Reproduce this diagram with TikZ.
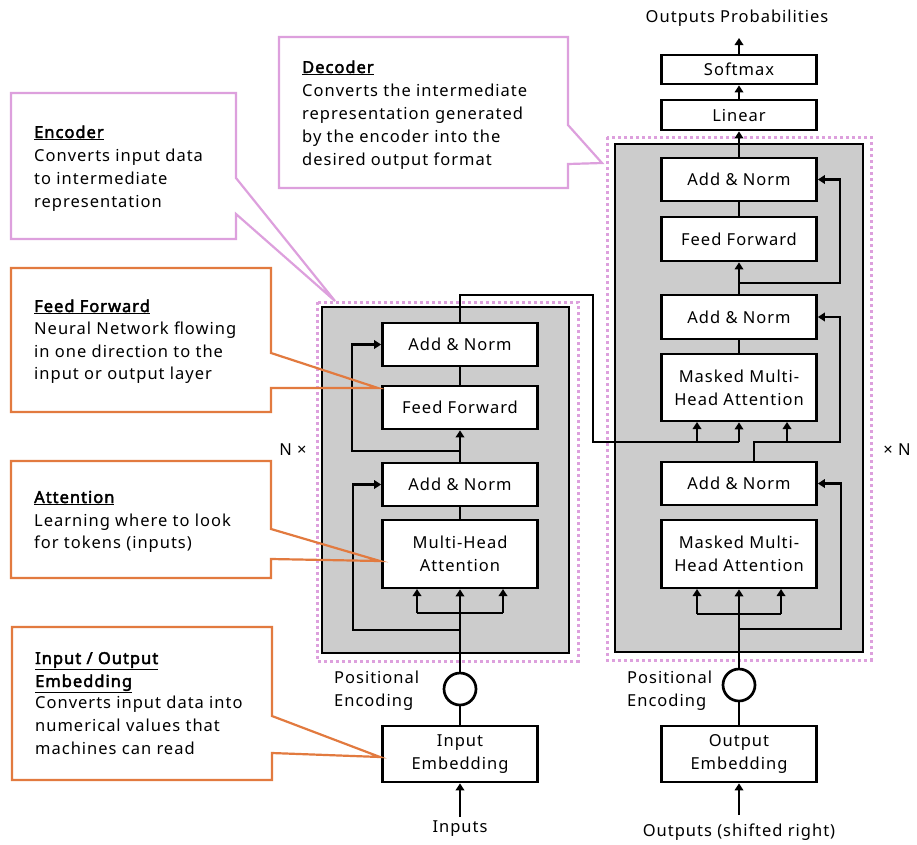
\documentclass[tikz,border=0pt]{standalone}
\usepackage{fontspec}
\setmainfont{Noto Sans}[LetterSpace=6, AutoFakeBold=2.5]
\usetikzlibrary{arrows.meta}
\definecolor{calloutpink}{RGB}{221,160,221}
\definecolor{calloutorange}{RGB}{226,122,63}
\definecolor{stackgray}{RGB}{204,204,204}
\begin{document}
\begin{tikzpicture}[x=1pt,y=-1pt,
  txt/.style={font=\fontsize{16.5}{23}\selectfont, inner sep=0pt},
  blk/.style={txt, draw=black, line width=2.7pt, fill=white, minimum width=155pt, align=center},
  conn/.style={line width=2.7pt},
  arr/.style={conn, -{Triangle[length=7pt,width=8.5pt]}},
  cline/.style={txt, anchor=base west},
  ctitle/.style={cline, font=\fontsize{16.5}{23}\selectfont\bfseries},
  pinkline/.style={draw=calloutpink, line width=2.2pt, line join=miter},
  orangeline/.style={draw=calloutorange, line width=2.2pt, line join=miter},
  stackframe/.style={draw=calloutpink, line width=3pt, dash pattern=on 3pt off 3pt},
  stackbox/.style={draw=black, line width=2.7pt, fill=stackgray},
  pe/.style={draw=black, line width=2.7pt, fill=white, circle, minimum size=32pt, inner sep=0pt}
]
\useasboundingbox (0,0) rectangle (917,844);
\fill[white] (0,0) rectangle (917,844);

% callout shapes
\def\encshape{(11,93) -- (236,93) -- (236,178) -- (335,301) -- (236,214) -- (236,239) -- (11,239) -- cycle}
\def\decshape{(279,37) -- (568,37) -- (568,125) -- (602,163) -- (568,164) -- (568,188) -- (279,188) -- cycle}
\def\ffshape{(11,268) -- (271,268) -- (271,353) -- (378,388) -- (271,388) -- (271,412) -- (11,412) -- cycle}
\def\attshape{(11,461) -- (271,461) -- (271,529) -- (380,561) -- (271,559) -- (271,578) -- (11,578) -- cycle}
\def\embshape{(12,627) -- (272,627) -- (272,716) -- (380,757) -- (272,753) -- (272,780) -- (12,780) -- cycle}
\fill[white] \encshape; \fill[white] \decshape; \fill[white] \ffshape;
\fill[white] \attshape; \fill[white] \embshape;

% encoder and decoder stacks
\draw[stackframe] (317,302) rectangle (578,661);
\draw[stackbox] (322,307) rectangle (569,653);
\draw[stackframe] (607,137) rectangle (871,660);
\draw[stackbox] (615,144) rectangle (863,652);

% encoder blocks
\node[blk, minimum height=43pt] (eAN2) at (460,344.5) {Add \& Norm};
\node[blk, minimum height=43pt] (eFF)  at (460,407.5) {Feed Forward};
\node[blk, minimum height=43pt] (eAN1) at (460,484.5) {Add \& Norm};
\node[blk, minimum height=68pt] (eMHA) at (460,554) {Multi-Head\\Attention};
\node[pe] (ePE) at (460,689) {};
\node[blk, minimum height=56pt] (eEmb) at (460,754) {Input\\Embedding};
\node[txt] (eIn) at (460,829) {Inputs};
\node[cline] (ePEa) at (334,683) {Positional};
\node[cline] (ePEb) at (334,706) {Encoding};
\node[txt] (eN) at (293,450) {N ×};

% decoder blocks
\node[blk, minimum height=43pt] (dAN3) at (739,179.5) {Add \& Norm};
\node[blk, minimum height=44pt] (dFF)  at (739,239) {Feed Forward};
\node[blk, minimum height=44pt] (dAN2) at (739,317) {Add \& Norm};
\node[blk, minimum height=67pt] (dMM2) at (739,387.5) {Masked Multi-\\Head Attention};
\node[blk, minimum height=43pt] (dAN1) at (739,483.5) {Add \& Norm};
\node[blk, minimum height=68pt] (dMM1) at (739,554) {Masked Multi-\\Head Attention};
\node[pe] (dPE) at (739,685) {};
\node[blk, minimum height=56pt] (dEmb) at (739,754) {Output\\Embedding};
\node[txt] (dIn) at (739,832) {Outputs (shifted right)};
\node[cline] (dPEa) at (627,683) {Positional};
\node[cline] (dPEb) at (627,706) {Encoding};
\node[txt] (dN) at (897,450) {× N};
\node[blk, minimum height=30pt] (dLin)  at (739,115) {Linear};
\node[blk, minimum height=29pt] (dSoft) at (739,69.5) {Softmax};
\node[txt] (dOut) at (737,18) {Outputs Probabilities};

% encoder wiring
\coordinate (eInTail) at (460,817);
\coordinate (eRes1) at (460,630);
\coordinate (eRes2) at (460,451);
\draw[arr] (eInTail) -- (eEmb.south);
\draw[conn] (eEmb.north) -- (ePE.south);
\draw[arr] (ePE.north) -- (eMHA.south);
\draw[conn] (417,613) -- (503,613);
\draw[arr] (417,613) -- (417,589);
\draw[arr] (503,613) -- (503,589);
\draw[arr] (eRes1) -- (353,630) -- (353,484.5) -- (eAN1.west);
\draw[conn] (eMHA.north) -- (eAN1.south);
\draw[arr] (eAN1.north) -- (eFF.south);
\draw[arr] (eRes2) -- (352,451) -- (352,344.5) -- (eAN2.west);
\draw[conn] (eFF.north) -- (eAN2.south);
\coordinate (eOutCorner) at (593,295);
\draw[conn] (eAN2.north) -- (460,295) -- (eOutCorner) -- (593,442) -- (739,442);
\draw[arr] (697,442) -- (697,422);
\draw[arr] (739,442) -- (dMM2.south);

% decoder wiring
\coordinate (dInTail) at (739,815);
\draw[arr] (dInTail) -- (dEmb.south);
\draw[conn] (dEmb.north) -- (dPE.south);
\draw[arr] (dPE.north) -- (dMM1.south);
\draw[conn] (697,614) -- (781,614);
\draw[arr] (697,614) -- (697,589);
\draw[arr] (781,614) -- (781,589);
\draw[arr] (739,629) -- (841,629) -- (841,483.5) -- (dAN1.east);
\draw[arr] (754,461) -- (754,442) -- (840,442) -- (840,317) -- (dAN2.east);
\draw[arr] (787,442) -- (787,422);
\draw[conn] (dMM2.north) -- (dAN2.south);
\draw[arr] (dAN2.north) -- (dFF.south);
\draw[arr] (739,283) -- (840,283) -- (840,179.5) -- (dAN3.east);
\draw[conn] (dFF.north) -- (dAN3.south);
\draw[arr] (dAN3.north) -- (dLin.south);
\draw[arr] (dLin.north) -- (dSoft.south);
\coordinate (dOutTip) at (739,38);
\draw[arr] (dSoft.north) -- (dOutTip);

% callout outlines
\draw[pinkline] \encshape;
\draw[pinkline] \decshape;
\draw[orangeline] \ffshape;
\draw[orangeline] \attshape;
\draw[orangeline] \embshape;

% callout texts
\node[ctitle] (encT) at (34,138) {\underline{Encoder}};
\node[cline] (encA) at (34,161.5) {Converts input data};
\node[cline] (encB) at (34,184) {to intermediate};
\node[cline] (encC) at (34,207) {representation};

\node[ctitle] (decT) at (302,73) {\underline{Decoder}};
\node[cline] (decA) at (302,96) {Converts the intermediate};
\node[cline] (decB) at (302,119) {representation generated};
\node[cline] (decC) at (302,142) {by the encoder into the};
\node[cline] (decD) at (302,165) {desired output format};

\node[ctitle] (ffT) at (34,312) {\underline{Feed Forward}};
\node[cline] (ffA) at (34,334.5) {Neural Network flowing};
\node[cline] (ffB) at (34,357) {in one direction to the};
\node[cline] (ffC) at (34,379.5) {input or output layer};

\node[ctitle] (atT) at (34,503) {\underline{Attention}};
\node[cline] (atA) at (34,526) {Learning where to look};
\node[cline] (atB) at (34,548.5) {for tokens (inputs)};

\node[ctitle] (emT) at (35,664) {\underline{Input / Output}};
\node[ctitle] (emU) at (35,687) {\underline{Embedding}};
\node[cline] (emA) at (35,708.5) {Converts input data into};
\node[cline] (emB) at (35,731.5) {numerical values that};
\node[cline] (emC) at (35,754) {machines can read};
\end{tikzpicture}
\end{document}
